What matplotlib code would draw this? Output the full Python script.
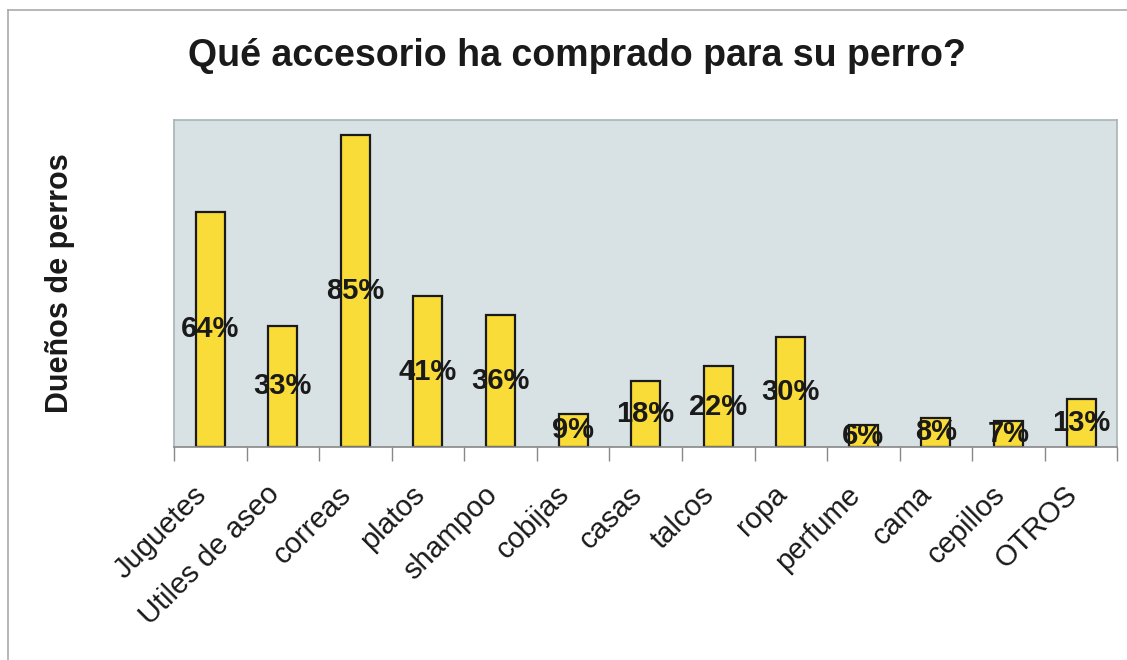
import numpy as np
import matplotlib
matplotlib.use("Agg")
import matplotlib.pyplot as plt
from matplotlib.lines import Line2D
from matplotlib.transforms import ScaledTranslation

plt.rcParams["font.family"] = ["Liberation Sans", "DejaVu Sans"]

categories = ["Juguetes", "Utiles de aseo", "correas", "platos", "shampoo", "cobijas",
              "casas", "talcos", "ropa", "perfume", "cama", "cepillos", "OTROS"]
values = [64, 33, 85, 41, 36, 9, 18, 22, 30, 6, 8, 7, 13]
title = "Qué accesorio ha comprado para su perro?"
ylabel = "Dueños de perros"

fig = plt.figure(figsize=(11.27, 6.6), dpi=100)
ax = fig.add_axes([0.1544, 0.3227, 0.837, 0.4955])
ax.set_facecolor("#d8e2e4")

x = np.arange(len(categories))
ax.bar(x, values, width=0.4, color="#fadc38", edgecolor="#1a1a1a", linewidth=1.6, zorder=2)
for xi, v in zip(x, values):
    ax.text(xi, v / 2, f"{v}%", ha="center", va="center", fontsize=21,
            fontweight="bold", color="#1a1a1a", zorder=3)

ax.set_xlim(-0.5, len(categories) - 0.5)
ax.set_ylim(0, 89)
ax.set_yticks([])
ax.set_xticks(x)
ax.set_xticklabels(categories, rotation=45, ha="right", va="center",
                   rotation_mode="anchor", fontsize=21, color="#1a1a1a")
ax.tick_params(axis="x", which="major", length=0, pad=31)
shift = ScaledTranslation(-8 / 100, 0, fig.dpi_scale_trans)
for lbl in ax.get_xticklabels():
    lbl.set_transform(lbl.get_transform() + shift)
ax.set_xticks(np.arange(len(categories) + 1) - 0.5, minor=True)
ax.tick_params(axis="x", which="minor", length=10, width=1, color="#888888")

for s in ["top", "left", "right"]:
    ax.spines[s].set_color("#a8b4b6")
    ax.spines[s].set_linewidth(1.2)
ax.spines["bottom"].set_color("#888888")
ax.spines["bottom"].set_linewidth(1.2)

ax.set_ylabel(ylabel, fontsize=22, fontweight="bold", color="#1a1a1a")
ax.yaxis.set_label_coords(-0.105, 0.5)
fig.text(0.512, 0.915, title, ha="center", va="center", fontsize=27,
         fontweight="bold", color="#1a1a1a")

# outer frame of the scanned chart
fig.add_artist(Line2D([0.007, 1.0], [0.985, 0.985], color="#aaaaaa", lw=1.2))
fig.add_artist(Line2D([0.007, 0.007], [0.0, 0.985], color="#aaaaaa", lw=1.2))

fig.savefig("out.png", dpi=100)
